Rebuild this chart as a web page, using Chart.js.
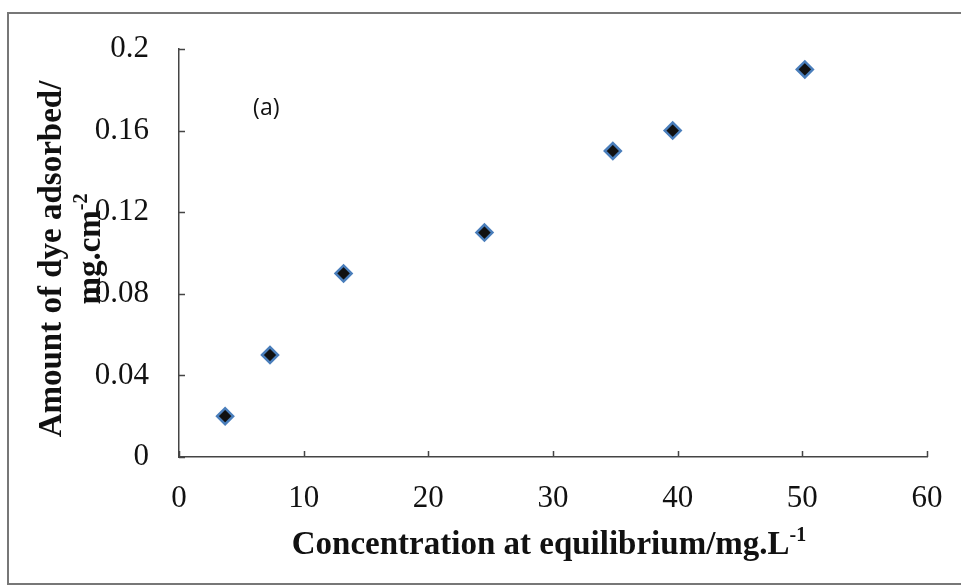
<!DOCTYPE html>
<html>
<head>
<meta charset="utf-8">
<script src="https://cdn.jsdelivr.net/npm/chart.js@4"></script>
<style>
  html, body { margin: 0; padding: 0; background: #fff; }
  #wrap { width: 961px; height: 586px; position: relative; }
</style>
</head>
<body>
<div id="wrap"><canvas id="c" width="961" height="586"></canvas></div>
<script>
// Equilibrium concentration (mg/L) and amount of dye adsorbed (mg/cm2)
const ceValues = [3.7, 7.3, 13.2, 24.5, 34.8, 39.6, 50.2];
const qeValues = [0.02, 0.05, 0.09, 0.11, 0.15, 0.16, 0.19];

const xTickLabels = ['0', '10', '20', '30', '40', '50', '60'];
const yTickLabels = ['0', '0.04', '0.08', '0.12', '0.16', '0.2'];

const xTitle = { main: 'Concentration at equilibrium/mg.L', sup: '-1' };
const yTitleLine1 = { main: 'Amount of dye adsorbed/', sup: '' };
const yTitleLine2 = { main: 'mg.cm', sup: '-2' };
const panelLabel = '(a)';

const SERIF = "'Liberation Serif', 'Times New Roman', serif";
const TICK_FONT_SIZE = 31;
const TITLE_FONT_SIZE = 33;

// Text with an optional superscript, centred on (cx, cy)
function drawSupText(ctx, part, cx, cy, size) {
  const mainFont = 'bold ' + size + 'px ' + SERIF;
  const supFont = 'bold ' + Math.round(size * 0.62) + 'px ' + SERIF;
  ctx.font = mainFont;
  const wMain = ctx.measureText(part.main).width;
  ctx.font = supFont;
  const wSup = part.sup ? ctx.measureText(part.sup).width : 0;
  const start = cx - (wMain + wSup) / 2;
  ctx.textBaseline = 'alphabetic';
  ctx.textAlign = 'left';
  const base = cy + size * 0.33;
  ctx.font = mainFont;
  ctx.fillText(part.main, start, base);
  if (part.sup) {
    ctx.font = supFont;
    ctx.fillText(part.sup, start + wMain, base - size * 0.38);
  }
}

const decorations = {
  id: 'decorations',
  beforeDraw(chart) {
    const ctx = chart.ctx;
    ctx.save();
    ctx.fillStyle = '#fff';
    ctx.fillRect(0, 0, chart.width, chart.height);
    // outer frame of the figure
    ctx.strokeStyle = '#777';
    ctx.lineWidth = 2;
    ctx.strokeRect(8, 13, 962, 571);
    ctx.restore();
  },
  afterDraw(chart) {
    const ctx = chart.ctx;
    const area = chart.chartArea;
    const xs = chart.scales.x;
    const ys = chart.scales.y;
    ctx.save();
    // inward tick marks
    ctx.strokeStyle = '#444';
    ctx.lineWidth = 1.5;
    ctx.beginPath();
    xs.ticks.forEach(t => {
      const px = Math.round(xs.getPixelForValue(t.value)) + 0.5;
      ctx.moveTo(px, area.bottom);
      ctx.lineTo(px, area.bottom - 6);
    });
    ys.ticks.forEach(t => {
      const py = Math.round(ys.getPixelForValue(t.value)) + 0.5;
      ctx.moveTo(area.left, py);
      ctx.lineTo(area.left + 6, py);
    });
    ctx.stroke();

    ctx.fillStyle = '#111';
    // x axis title
    drawSupText(ctx, xTitle, (area.left + area.right) / 2 - 4, 543, TITLE_FONT_SIZE);
    // y axis title (two lines, rotated)
    const cy = (area.top + area.bottom) / 2;
    ctx.save();
    ctx.translate(50, cy + 6);
    ctx.rotate(-Math.PI / 2);
    drawSupText(ctx, yTitleLine1, 0, 0, TITLE_FONT_SIZE);
    ctx.restore();
    ctx.save();
    ctx.translate(89, cy - 4);
    ctx.rotate(-Math.PI / 2);
    drawSupText(ctx, yTitleLine2, 0, 0, TITLE_FONT_SIZE);
    ctx.restore();

    // panel label
    ctx.font = "23px 'Open Sans', 'Liberation Sans', sans-serif";
    ctx.textAlign = 'center';
    ctx.textBaseline = 'middle';
    ctx.fillText(panelLabel, xs.getPixelForValue(7.0), ys.getPixelForValue(0.171));
    ctx.restore();
  }
};

new Chart(document.getElementById('c'), {
  type: 'scatter',
  data: {
    datasets: [{
      data: ceValues.map((x, i) => ({ x: x, y: qeValues[i] })),
      pointStyle: 'rectRot',
      pointRadius: 8,
      pointHoverRadius: 8,
      backgroundColor: '#111',
      borderColor: '#4a7ebb',
      borderWidth: 2.5,
      showLine: false
    }]
  },
  options: {
    responsive: false,
    animation: false,
    devicePixelRatio: 1,
    layout: { padding: { top: 49, right: 34, left: 0, bottom: 0 } },
    plugins: { legend: { display: false }, tooltip: { enabled: false } },
    scales: {
      x: {
        type: 'linear',
        min: 0, max: 60,
        grid: { display: false },
        border: { display: true, color: '#444', width: 1.5 },
        ticks: {
          stepSize: 10,
          padding: 15,
          color: '#111',
          font: { family: SERIF, size: TICK_FONT_SIZE },
          callback: (v) => xTickLabels[Math.round(v / 10)]
        },
        afterFit: (s) => { s.height = 129; }
      },
      y: {
        type: 'linear',
        min: 0, max: 0.2,
        grid: { display: false },
        border: { display: true, color: '#444', width: 1.5 },
        ticks: {
          stepSize: 0.04,
          padding: 22,
          color: '#111',
          font: { family: SERIF, size: TICK_FONT_SIZE },
          callback: (v) => yTickLabels[Math.round(v / 0.04)]
        },
        afterFit: (s) => { s.width = 179; }
      }
    }
  },
  plugins: [decorations]
});
</script>
</body>
</html>
